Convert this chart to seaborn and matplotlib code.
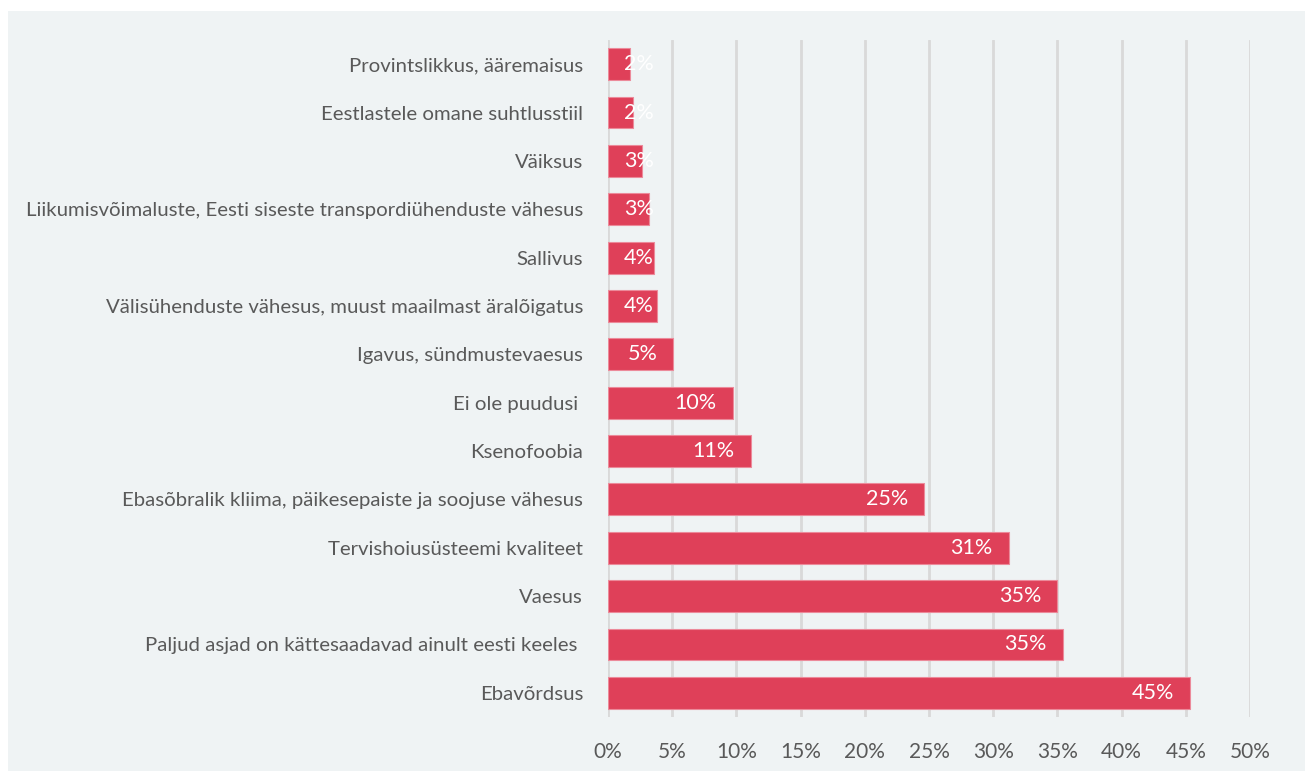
import matplotlib
matplotlib.use('Agg')
import matplotlib.pyplot as plt
import matplotlib.patches as mpatches
import matplotlib.transforms as mtransforms
import seaborn as sns
import pandas as pd

# DATA
categories = [
    'Provintslikkus, ääremaisus',
    'Eestlastele omane suhtlusstiil',
    'Väiksus',
    'Liikumisvõimaluste, Eesti siseste transpordiühenduste vähesus',
    'Sallivus',
    'Välisühenduste vähesus, muust maailmast äralõigatus',
    'Igavus, sündmustevaesus',
    'Ei ole puudusi ',
    'Ksenofoobia',
    'Ebasõbralik kliima, päikesepaiste ja soojuse vähesus',
    'Tervishoiusüsteemi kvaliteet',
    'Vaesus',
    'Paljud asjad on kättesaadavad ainult eesti keeles ',
    'Ebavõrdsus',
]
values = [1.7, 1.95, 2.65, 3.2, 3.6, 3.8, 5.1, 9.7, 11.1, 24.6, 31.2, 35.0, 35.4, 45.3]
x_ticks = [0, 5, 10, 15, 20, 25, 30, 35, 40, 45, 50]

df = pd.DataFrame({'category': categories, 'value': values})

BAR = '#DF4059'
BG = '#EFF3F4'
TXT = '#595959'

sns.set_style('white')
plt.rcParams['font.family'] = ['Lato', 'DejaVu Sans']

fig = plt.figure(figsize=(13.05, 7.71), dpi=100)
fig.patch.set_facecolor('white')
# light panel behind the chart
W, H = 1305, 771
fig.patches.append(mpatches.Rectangle((8 / W, 0), 1 - 8 / W, 1 - 11 / H,
                                      transform=fig.transFigure, facecolor=BG,
                                      edgecolor='none', zorder=-10))

ax = fig.add_axes([608 / W, 1 - 717 / H, (1250 - 608) / W, (717 - 40) / H])
ax.set_facecolor('none')

sns.barplot(data=df, x='value', y='category', color=BAR, saturation=1,
            width=0.66, edgecolor='#EC8A9A', linewidth=0.8, ax=ax, zorder=3)

ax.set_xlim(0, 50)
ax.set_ylim(len(categories) - 0.5, -0.5)
ax.set_xticks(x_ticks)
ax.set_xticklabels([f'{t}%' for t in x_ticks])
ax.grid(axis='x', color='#D9D9D9', linewidth=2, zorder=0)
ax.grid(axis='y', visible=False)
for s in ax.spines.values():
    s.set_visible(False)
ax.tick_params(axis='y', length=0, pad=18, labelsize=14.7, labelcolor=TXT)
ax.tick_params(axis='x', length=0, pad=18, labelsize=15, labelcolor=TXT)
ax.set_xlabel('')
ax.set_ylabel('')

# VALUE LABELS (inside end, clamped so they do not pass the bar base)
fig.canvas.draw()
renderer = fig.canvas.get_renderer()
px = 1.0 / 100 * 72  # points per pixel
for i, v in enumerate(values):
    t = ax.text(v, i, f'{round(v)}%', color='white', fontsize=15.5, ha='right',
                va='center', zorder=5,
                transform=mtransforms.offset_copy(ax.transData, fig=fig, x=-16 * px, y=0, units='points'))
    bb = t.get_window_extent(renderer)
    base = ax.transData.transform((0, i))[0]
    if bb.x0 < base + 16:
        t.set_transform(mtransforms.offset_copy(ax.transData, fig=fig, x=16 * px, y=0, units='points'))
        t.set_x(0)
        t.set_ha('left')

fig.savefig('out.png', dpi=100, facecolor=fig.get_facecolor())
